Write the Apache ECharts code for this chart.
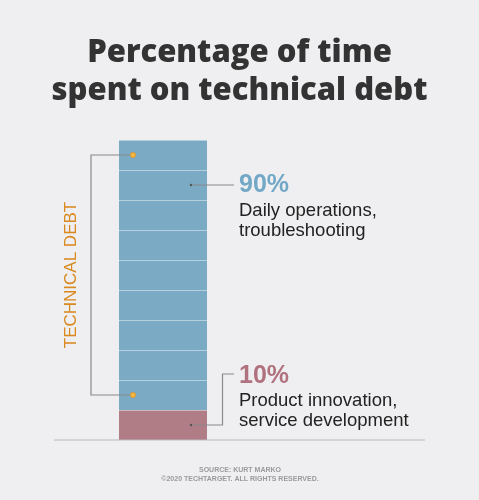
<!DOCTYPE html>
<html>
<head>
<meta charset="utf-8">
<script src="https://cdn.jsdelivr.net/npm/echarts@6/dist/echarts.min.js"></script>
<style>
  html, body { margin: 0; padding: 0; background: #efeff1; }
  #main { width: 479px; height: 500px; }
</style>
</head>
<body>
<div id="main"></div>
<script>
// data
var categories = ['Time'];
var shareNames = ['Product innovation, service development', 'Daily operations, troubleshooting'];
var shareValues = [10, 90];
var shareLabels = ['10%', '90%'];
var shareColors = ['#b07d87', '#7aaac4'];
var labelColors = ['#b0727f', '#72a8c6'];
var descLines = [
    ['Product innovation,', 'service development'],
    ['Daily operations,', 'troubleshooting']
];
// where each leader line touches the bar, and the tech debt bracket span
var leaderAt = [5, 85];
var bracketSpan = [15, 95];

var chart = echarts.init(document.getElementById('main'));

var series = shareValues.map(function (v, i) {
    return {
        name: shareNames[i],
        type: 'bar',
        stack: 'total',
        barWidth: '100%',
        data: [v],
        itemStyle: { color: shareColors[i] },
        silent: true
    };
});

chart.setOption({
    backgroundColor: '#efeff1',
    animation: false,
    title: {
        text: 'Percentage of time\nspent on technical debt',
        left: 'center',
        top: 29,
        textStyle: {
            fontFamily: 'Open Sans',
            fontWeight: 800,
            fontSize: 31,
            lineHeight: 38,
            color: '#333333'
        }
    },
    grid: { left: 119, top: 140, width: 88, height: 300 },
    xAxis: {
        type: 'category',
        data: categories,
        show: false
    },
    yAxis: {
        type: 'value',
        min: 0,
        max: 100,
        interval: 10,
        z: 5,
        axisLine: { show: false },
        axisTick: { show: false },
        axisLabel: { show: false },
        splitLine: { lineStyle: { color: 'rgba(255,255,255,0.45)', width: 1 } }
    },
    series: series
});

// annotations placed from the axis scale
function py(v) { return chart.convertToPixel({ yAxisIndex: 0 }, v); }
var barLeft = 119, barRight = 207;
var dotX = barLeft + 14;
var leaderStart = barRight - 16;
var textX = 239;
var lineStyle = { stroke: '#8a8a8a', lineWidth: 1.2, fill: null };
var descFont = { fill: '#222', fontFamily: 'Liberation Sans', fontSize: 18.5, verticalAlign: 'middle' };

var g = [];

// baseline
g.push({ type: 'line', shape: { x1: 54, y1: py(0), x2: 425, y2: py(0) },
    style: { stroke: '#b8b8bc', lineWidth: 1 }, z: 10 });

// bracket
var bTop = py(bracketSpan[1]), bBot = py(bracketSpan[0]);
g.push({ type: 'polyline', shape: { points: [[dotX, bTop], [91, bTop], [91, bBot], [dotX, bBot]] },
    style: lineStyle, z: 10 });
[bTop, bBot].forEach(function (y) {
    g.push({ type: 'circle', shape: { cx: dotX, cy: y, r: 2.6 },
        style: { fill: '#f2b640', stroke: '#d9962a', lineWidth: 0.8 }, z: 11 });
});
g.push({ type: 'text', x: 71.5, y: (bTop + bBot) / 2, rotation: Math.PI / 2,
    style: { text: 'TECHNICAL DEBT', fill: '#d9891e', fontFamily: 'Liberation Sans',
        fontSize: 17, align: 'center', verticalAlign: 'middle' }, z: 10 });

// 90% callout
var y90 = py(leaderAt[1]);
g.push({ type: 'line', shape: { x1: leaderStart, y1: y90, x2: 234, y2: y90 }, style: lineStyle, z: 10 });
g.push({ type: 'circle', shape: { cx: leaderStart, cy: y90, r: 1.2 }, style: { fill: '#555' }, z: 11 });
g.push({ type: 'text', x: textX, y: y90,
    style: { text: shareLabels[1], fill: labelColors[1], fontFamily: 'Liberation Sans',
        fontWeight: 'bold', fontSize: 25, verticalAlign: 'middle' }, z: 10 });
descLines[1].forEach(function (t, k) {
    g.push({ type: 'text', x: textX, y: y90 + 26 + k * 19.5,
        style: Object.assign({ text: t }, descFont), z: 10 });
});

// 10% callout
var y10 = py(leaderAt[0]);
var y10t = y10 - 51;
g.push({ type: 'polyline', shape: { points: [[leaderStart, y10], [222.5, y10], [222.5, y10t], [234, y10t]] },
    style: lineStyle, z: 10 });
g.push({ type: 'circle', shape: { cx: leaderStart, cy: y10, r: 1.2 }, style: { fill: '#555' }, z: 11 });
g.push({ type: 'text', x: textX, y: y10t + 2,
    style: { text: shareLabels[0], fill: labelColors[0], fontFamily: 'Liberation Sans',
        fontWeight: 'bold', fontSize: 25, verticalAlign: 'middle' }, z: 10 });
descLines[0].forEach(function (t, k) {
    g.push({ type: 'text', x: textX, y: y10t + 27 + k * 19.5,
        style: Object.assign({ text: t }, descFont), z: 10 });
});

// source
g.push({ type: 'text', x: 240, y: 470,
    style: { text: 'SOURCE: KURT MARKO', fill: '#9a9a9e', fontFamily: 'Liberation Sans',
        fontWeight: 'bold', fontSize: 7, align: 'center', verticalAlign: 'middle' }, z: 10 });
g.push({ type: 'text', x: 240, y: 479,
    style: { text: '\u00a92020 TECHTARGET. ALL RIGHTS RESERVED.', fill: '#9a9a9e', fontFamily: 'Liberation Sans',
        fontWeight: 'bold', fontSize: 7, align: 'center', verticalAlign: 'middle' }, z: 10 });

chart.setOption({ graphic: g });
</script>
</body>
</html>
